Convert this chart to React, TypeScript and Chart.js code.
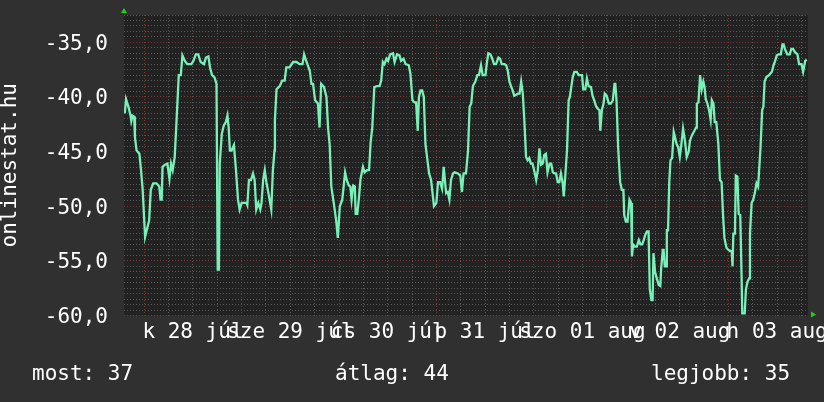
import React, { useEffect, useRef } from 'react';
import { Chart, registerables } from 'chart.js';

Chart.register(...registerables);

// hours relative to midnight of 28 July
const hours = [
  -4.8, -4.5, -3.9, -3.4, -3.2, -2.9, -2.5, -2.3, -1.9, -1.2,
  -0.8, -0.4, 0.2, 0.6, 1.2, 1.6, 2.2, 3.0, 3.7, 4.0,
  4.3, 4.5, 5.1, 5.7, 6.2, 6.6, 7.0, 7.5, 8.0, 8.5,
  9.0, 9.4, 10.0, 10.6, 11.6, 12.1, 12.7, 13.3, 13.9, 14.7,
  15.2, 15.8, 16.2, 16.7, 17.3, 17.8, 18.1, 18.4, 18.6, 19.1,
  19.6, 20.1, 20.5, 20.8, 21.1, 21.5, 22.1, 22.6, 23.1, 23.5,
  24.0, 25.2, 25.4, 25.8, 26.3, 26.8, 27.2, 27.6, 28.1, 28.6,
  28.9, 29.3, 29.7, 30.1, 30.6, 31.3, 31.7, 32.1, 32.2, 32.6,
  33.4, 34.0, 34.6, 35.0, 35.8, 36.7, 37.5, 38.3, 39.0, 39.4,
  40.0, 40.8, 41.2, 41.6, 42.1, 42.8, 43.2, 43.6, 44.3, 44.9,
  45.3, 45.7, 46.1, 46.7, 47.3, 47.7, 48.2, 48.8, 49.5, 49.9,
  50.4, 50.8, 51.1, 51.5, 51.9, 52.1, 52.5, 52.9, 53.3, 53.9,
  54.3, 54.9, 55.4, 55.8, 56.2, 56.7, 57.4, 58.0, 58.4, 58.8,
  59.2, 59.7, 60.1, 60.6, 61.3, 61.7, 62.3, 62.9, 63.3, 63.9,
  64.4, 65.2, 65.6, 66.1, 66.6, 67.0, 67.4, 67.7, 68.1, 68.5,
  68.9, 69.3, 69.7, 70.2, 70.7, 71.4, 72.0, 72.4, 72.9, 73.4,
  73.8, 74.4, 74.8, 75.2, 75.6, 76.1, 76.5, 77.3, 77.9, 78.3,
  78.7, 79.3, 79.8, 80.2, 80.6, 81.0, 81.6, 82.1, 82.5, 83.0,
  83.4, 84.1, 84.4, 84.8, 85.3, 85.7, 86.2, 86.7, 87.3, 87.7,
  88.1, 88.8, 89.2, 89.6, 90.0, 90.4, 90.8, 91.2, 92.1, 92.5,
  92.9, 93.3, 93.7, 94.1, 94.5, 94.9, 95.3, 95.7, 96.2, 96.6,
  97.0, 97.4, 97.8, 98.2, 98.6, 99.0, 99.4, 99.9, 100.3, 100.7,
  101.1, 101.5, 101.9, 102.3, 102.7, 103.1, 103.4, 103.7, 104.2, 104.6,
  104.9, 105.6, 106.0, 106.6, 107.1,
  107.9, 108.2, 108.7, 109.1, 109.5, 110.1, 110.5, 110.9, 111.3, 111.8,
  112.2, 112.4, 112.8, 113.2, 113.5, 114.0, 114.5, 115.0, 115.5, 115.9,
  116.1, 116.4, 116.8, 117.3, 117.7, 118.1, 118.3, 118.7, 119.1, 119.6,
  120.0, 120.2, 120.5, 120.9, 121.4, 121.9, 122.3, 122.7, 123.1, 123.5,
  123.9, 124.3, 124.6, 125.0, 125.3, 125.5, 125.9, 126.4, 126.8, 127.2,
  127.4, 127.8, 128.0, 128.3, 128.6, 128.8, 129.1, 129.4, 129.7, 130.1,
  130.5, 130.9, 131.2, 131.6, 132.0, 132.4, 132.8, 133.3, 133.7, 134.2,
  134.5, 135.0, 135.6, 136.0, 136.2, 136.6, 137.0, 137.4, 137.8, 138.1,
  138.4, 138.8, 139.2, 139.6, 139.9, 140.3, 140.6, 141.0, 141.5, 141.9,
  142.3, 142.7, 143.0, 143.5, 144.0, 144.4, 144.8, 145.0, 145.2, 145.6,
  145.8, 146.2, 146.5, 146.9, 147.1, 147.4, 148.0, 148.3, 148.7, 149.1,
  149.3, 149.7, 150.1, 150.5, 150.9, 151.3, 151.5, 151.9, 152.3, 152.6,
  152.9, 153.3, 154.0, 154.7, 155.1, 155.5, 155.9, 156.3, 156.9, 157.3,
  157.6, 157.9, 158.5, 159.1, 159.5, 159.9, 160.4, 161.0, 161.4, 162.0,
  162.4, 162.6, 162.9, 163.3,
];

const values = [
  -41.5, -40.2, -40.9, -41.7, -42.2, -41.7, -41.8, -43.7, -44.9, -45.2,
  -46.7, -48.5, -52.8, -52.2, -51.3, -48.5, -47.9, -47.9, -48.2, -49.4,
  -49.4, -46.4, -46.2, -46.1, -47.5, -46.1, -46.7, -45.5, -41.8, -38.0,
  -38.0, -36.2, -36.7, -37.0, -37.0, -36.7, -36.1, -36.1, -36.8, -37.0,
  -36.4, -36.3, -37.3, -38.0, -38.2, -38.8, -55.8, -55.8, -46.1, -43.4,
  -42.6, -42.3, -41.7, -42.8, -44.9, -44.9, -44.4, -46.7, -49.4, -50.3,
  -49.7, -49.7, -49.9, -47.6, -47.6, -47.0, -47.6, -50.3, -49.7, -50.3,
  -49.7, -47.6, -46.7, -47.8, -48.8, -50.3, -46.7, -44.9, -42.1, -39.3,
  -39.0, -38.5, -38.5, -37.3, -37.3, -36.8, -36.8, -37.0, -37.0, -36.1,
  -36.8, -37.6, -38.8, -38.8, -40.3, -40.6, -42.8, -38.8, -39.1, -40.0,
  -42.8, -44.4, -48.2, -49.7, -51.3, -52.9, -50.0, -49.4, -46.9, -47.6,
  -48.1, -48.2, -49.4, -48.1, -48.2, -50.7, -50.7, -49.3, -47.5, -46.4,
  -46.9, -46.7, -46.7, -44.1, -42.8, -39.1, -39.0, -39.0, -38.5, -36.8,
  -37.0, -36.5, -36.7, -36.1, -36.0, -36.8, -36.1, -36.2, -36.7, -36.5,
  -37.0, -37.1, -37.9, -40.3, -40.5, -40.5, -43.1, -40.0, -39.4, -39.4,
  -40.0, -44.3, -45.5, -47.0, -47.6, -50.0, -49.7, -47.8, -47.8, -48.4,
  -46.4, -48.8, -48.7, -49.4, -47.6, -47.0, -46.9, -47.0, -47.2, -48.7,
  -47.0, -47.0, -44.9, -40.9, -40.6, -39.0, -38.6, -38.0, -38.0, -37.1,
  -38.0, -38.0, -37.0, -36.0, -36.1, -36.4, -37.0, -37.0, -36.4, -36.5,
  -37.0, -37.0, -37.1, -37.6, -38.6, -39.0, -39.4, -39.9, -39.7, -39.7,
  -38.6, -39.7, -42.3, -45.5, -45.8, -45.6, -46.1, -46.1, -46.9, -47.6,
  -46.7, -44.7, -46.2, -46.1, -45.3, -45.2, -46.9, -46.1, -46.1, -46.9,
  -47.0, -47.0, -47.8, -47.8, -47.0, -47.8, -49.1, -47.6, -44.9, -40.3,
  -40.0, -38.2, -37.7, -37.7, -38.0,
  -38.0, -39.3, -39.3, -38.3, -39.0, -39.1, -39.9, -40.3, -40.8, -41.1,
  -41.2, -43.1, -41.2, -40.6, -39.7, -39.9, -40.6, -40.6, -40.3, -38.8,
  -38.8, -40.3, -44.6, -47.8, -48.5, -48.5, -50.8, -51.4, -51.4, -49.4,
  -49.7, -54.6, -53.5, -53.7, -53.7, -53.1, -53.5, -53.5, -53.1, -52.6,
  -52.3, -52.3, -57.6, -58.6, -58.6, -54.3, -56.0, -56.7, -57.2, -57.3,
  -55.7, -54.0, -54.0, -55.5, -55.5, -52.2, -52.2, -47.8, -45.8, -45.6,
  -43.2, -43.8, -44.3, -44.6, -45.5, -44.3, -42.9, -44.1, -45.5, -45.0,
  -44.0, -43.5, -43.1, -42.8, -40.6, -40.5, -38.0, -39.3, -38.6, -39.1,
  -40.2, -40.6, -41.2, -42.1, -40.3, -40.6, -42.3, -42.3, -44.3, -47.6,
  -47.8, -51.1, -52.9, -53.8, -54.0, -54.1, -54.1, -55.5, -52.5, -52.5,
  -47.2, -47.3, -50.7, -50.8, -54.1, -59.8, -59.8, -57.6, -56.9, -56.6,
  -52.5, -49.7, -49.4, -48.8, -47.9, -48.2, -48.2, -44.6, -41.2, -40.9,
  -38.6, -38.2, -38.0, -37.7, -37.1, -36.7, -36.2, -36.1, -36.1, -35.2,
  -35.2, -35.6, -36.1, -36.1, -35.6, -35.6, -35.9, -36.1, -37.0, -37.0,
  -37.7, -37.7, -36.7, -36.6,
];

const dayLabels = ['k 28 júl', 'sze 29 júl', 'cs 30 júl', 'p 31 júl', 'szo 01 aug', 'v 02 aug', 'h 03 aug'];
const dayLabelHours = [12, 36, 60, 84, 108, 132, 156];
const yLabelValues = [-60, -55, -50, -45, -40, -35];
const axisTitle = 'onlinestat.hu';
const legendTexts = ['most: 37', 'átlag: 44', 'legjobb: 35'];

const X_MIN = -5;
const X_MAX = 163.6;
const Y_MIN = -60;
const Y_MAX = -32.5;

const FONT_FAMILY = '"DejaVu Sans Mono", monospace';
const WHITE = '#ffffff';
const LINE = '#78f0b8';
const MAJOR = '#7a3434';
const MINOR = '#585858';

export default function App() {
  const ref = useRef<HTMLCanvasElement>(null);

  useEffect(() => {
    document.body.style.margin = '0';
    document.body.style.background = '#303030';
    const points = hours.map((h, i) => ({ x: h, y: values[i] }));

    const decor = {
      id: 'decor',
      beforeDraw(chart: any) {
        const { ctx, chartArea: a } = chart;
        ctx.save();
        ctx.fillStyle = '#303030';
        ctx.fillRect(0, 0, chart.width, chart.height);
        ctx.fillStyle = '#222222';
        ctx.fillRect(a.left, a.top, a.right - a.left, a.bottom - a.top);
        ctx.restore();
      },
      afterDraw(chart: any) {
        const { ctx, chartArea: a } = chart;
        ctx.save();
        ctx.fillStyle = '#1fd11f';
        ctx.beginPath();
        ctx.moveTo(a.left - 3, a.top - 2);
        ctx.lineTo(a.left + 3, a.top - 2);
        ctx.lineTo(a.left, a.top - 7);
        ctx.closePath();
        ctx.fill();
        ctx.beginPath();
        ctx.moveTo(a.right + 3, a.bottom - 4);
        ctx.lineTo(a.right + 3, a.bottom + 2);
        ctx.lineTo(a.right + 8, a.bottom - 1);
        ctx.closePath();
        ctx.fill();
        ctx.fillStyle = WHITE;
        ctx.font = '21px ' + FONT_FAMILY;
        ctx.textBaseline = 'alphabetic';
        ctx.textAlign = 'left';
        const xs = [32, 335, 651];
        legendTexts.forEach((t, i) => ctx.fillText(t, xs[i], 380));
        ctx.restore();
      },
    };

    const chart = new Chart(ref.current as HTMLCanvasElement, {
      type: 'line',
      data: {
        datasets: [
          {
            data: points,
            borderColor: LINE,
            borderWidth: 2.3,
            pointRadius: 0,
            tension: 0,
            fill: false,
          },
        ],
      },
      plugins: [decor],
      options: {
        animation: false,
        responsive: false,
        maintainAspectRatio: false,
        layout: { padding: { left: 0, right: 16, top: 15, bottom: 0 } },
        plugins: { legend: { display: false }, tooltip: { enabled: false } },
        scales: {
          x: {
            type: 'linear',
            min: X_MIN,
            max: X_MAX,
            afterBuildTicks: (s: any) => {
              const t = [];
              for (let h = 0; h <= X_MAX; h += 6) t.push({ value: h });
              s.ticks = t;
            },
            afterFit: (s: any) => {
              s.height = 86.5;
              s.paddingLeft = 0;
              s.paddingRight = 0;
            },
            grid: {
              color: (c: any) => (c.tick && c.tick.value % 24 === 0 ? MAJOR : MINOR),
              lineWidth: 1,
              drawTicks: false,
            },
            border: { display: false, dash: [1, 2] },
            ticks: {
              autoSkip: false,
              maxRotation: 0,
              minRotation: 0,
              padding: 4,
              color: WHITE,
              font: { family: FONT_FAMILY, size: 21 },
              callback: (v: any) => {
                const i = dayLabelHours.indexOf(Number(v));
                return i >= 0 ? dayLabels[i] : '';
              },
            },
          },
          y: {
            type: 'linear',
            min: Y_MIN,
            max: Y_MAX,
            afterBuildTicks: (s: any) => {
              const t = [];
              for (let k = 0; Y_MIN + k * 0.5 <= Y_MAX + 1e-9; k++) t.push({ value: Y_MIN + k * 0.5 });
              s.ticks = t;
            },
            afterFit: (s: any) => {
              s.width = 124;
              s.paddingTop = 0;
              s.paddingBottom = 0;
            },
            grid: {
              color: (c: any) =>
                c.tick && yLabelValues.some((v) => Math.abs(v - c.tick.value) < 1e-6) ? MAJOR : MINOR,
              lineWidth: 1,
              drawTicks: false,
            },
            border: { display: false, dash: [1, 2] },
            ticks: {
              autoSkip: false,
              padding: 16,
              labelOffset: 2,
              color: WHITE,
              font: { family: FONT_FAMILY, size: 21 },
              callback: (v: any) => {
                const n = Number(v);
                return yLabelValues.some((y) => Math.abs(y - n) < 1e-6) ? n.toFixed(1).replace('.', ',') : '';
              },
            },
            title: {
              display: true,
              text: axisTitle,
              color: WHITE,
              font: { family: FONT_FAMILY, size: 21, lineHeight: 1.05 },
              padding: 0,
            },
          },
        },
      },
    });
    return () => chart.destroy();
  }, []);

  return (
    <div style={{ width: 824, height: 402, background: '#303030' }}>
      <canvas ref={ref} width={824} height={402} style={{ display: 'block' }} />
    </div>
  );
}
